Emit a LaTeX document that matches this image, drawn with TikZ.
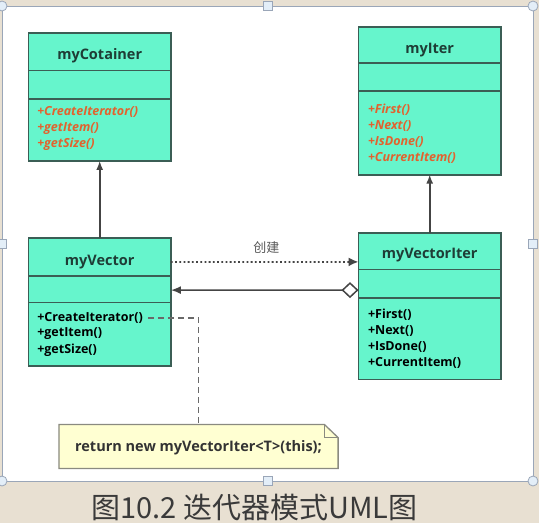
\documentclass[tikz,border=0pt]{standalone}
\usepackage{fontspec}
\newfontfamily\umlfont{Open Sans}
\newfontfamily\cjkfont{Noto Sans CJK SC}
\usetikzlibrary{arrows.meta,calc}
\definecolor{boxfill}{HTML}{66F5CC}
\definecolor{boxline}{HTML}{3B5E55}
\definecolor{optxt}{HTML}{E2622E}
\definecolor{titletxt}{HTML}{1E3D36}
\definecolor{notefill}{HTML}{FFFFD2}
\definecolor{noteline}{HTML}{8A8A80}
\definecolor{bgbeige}{HTML}{E8E0D2}
\definecolor{framecol}{HTML}{9AA6B8}
\definecolor{handlefill}{HTML}{E3EEF8}
\definecolor{conn}{HTML}{444444}
\definecolor{captxt}{HTML}{3A3A3A}
\begin{document}
\begin{tikzpicture}[x=1pt,y=-1pt,
  umlbox/.style={draw=boxline, line width=1.8pt, fill=boxfill, anchor=north west,
    minimum width=142.4pt, inner sep=0pt, outer sep=0pt},
  divider/.style={draw=boxline, line width=1.8pt},
  titletext/.style={font=\umlfont\bfseries\fontsize{14.5}{18}\selectfont, text=titletxt, inner sep=0pt},
  absop/.style={font=\umlfont\bfseries\itshape\fontsize{12.5}{15}\selectfont, text=optxt, anchor=west, inner sep=0pt},
  conop/.style={font=\umlfont\bfseries\fontsize{12.5}{15}\selectfont, text=black, anchor=west, inner sep=0pt},
  connline/.style={draw=conn, line width=1.6pt},
  dotline/.style={draw=conn, line width=1.8pt, dash pattern=on 1.8pt off 2.4pt},
  dashline/.style={draw=conn!80, line width=1.5pt, dash pattern=on 6pt off 4pt},
  lbltext/.style={font=\cjkfont\fontsize{13}{15}\selectfont, text=black!65, inner sep=0pt},
  handlesq/.style={draw=framecol, fill=handlefill, line width=0.8pt},
]
% background and frame
\fill[bgbeige] (0,0) rectangle (539,523);
\useasboundingbox (0,0) rectangle (539,523);
\fill[white] (2,6) rectangle (533,481);
\draw[framecol, line width=1pt] (2,6) rectangle (533,481);
\foreach \px/\py in {2/6,533/6,2/481,533/481}
  \draw[handlesq] (\px,\py) circle (5pt);
\foreach \px/\py in {267.5/6,267.5/481,2/243.5,533/243.5}
  \draw[handlesq] (\px-4.5,\py-4.5) rectangle (\px+4.5,\py+4.5);

% myCotainer
\node[umlbox, minimum height=127.6pt] (cont) at (28.5,33.3) {};
\draw[divider] ($(cont.north west)+(0,37.2)$) -- ($(cont.north east)+(0,37.2)$);
\draw[divider] ($(cont.north west)+(0,65.4)$) -- ($(cont.north east)+(0,65.4)$);
\node[titletext] (contT) at ($(cont.north)+(0,22.4)$) {myCotainer};
\node[absop] (contA) at (37.1,112.1) {+CreateIterator()};
\node[absop] (contB) at (37.1,128.6) {+getItem()};
\node[absop] (contC) at (37.1,144.7) {+getSize()};

% myIter
\node[umlbox, minimum height=147.8pt] (iter) at (358.5,26.8) {};
\draw[divider] ($(iter.north west)+(0,36.5)$) -- ($(iter.north east)+(0,36.5)$);
\draw[divider] ($(iter.north west)+(0,64.3)$) -- ($(iter.north east)+(0,64.3)$);
\node[titletext] (iterT) at ($(iter.north)+(0,23)$) {myIter};
\node[absop] (iterA) at (367.8,110) {+First()};
\node[absop] (iterB) at (367.8,125.8) {+Next()};
\node[absop] (iterC) at (367.8,141.6) {+IsDone()};
\node[absop] (iterD) at (367.8,158.1) {+CurrentItem()};

% myVector
\node[umlbox, minimum height=127.9pt] (vec) at (28.5,237.8) {};
\draw[divider] ($(vec.north west)+(0,37.8)$) -- ($(vec.north east)+(0,37.8)$);
\draw[divider] ($(vec.north west)+(0,64.6)$) -- ($(vec.north east)+(0,64.6)$);
\node[titletext] (vecT) at ($(vec.north)+(0,24.1)$) {myVector};
\node[conop] (vecA) at (37.1,317.6) {+CreateIterator()};
\node[conop] (vecB) at (37.1,333.4) {+getItem()};
\node[conop] (vecC) at (37.1,349.9) {+getSize()};

% myVectorIter
\node[umlbox, minimum height=146.7pt] (viter) at (358.5,232.7) {};
\draw[divider] ($(viter.north west)+(0,36.7)$) -- ($(viter.north east)+(0,36.7)$);
\draw[divider] ($(viter.north west)+(0,65.3)$) -- ($(viter.north east)+(0,65.3)$);
\node[titletext] (viterT) at ($(viter.north)+(0,22.3)$) {myVectorIter};
\node[conop] (viterA) at (367.8,314.5) {+First()};
\node[conop] (viterB) at (367.8,330.6) {+Next()};
\node[conop] (viterC) at (367.8,347.1) {+IsDone()};
\node[conop] (viterD) at (367.8,363.3) {+CurrentItem()};

% inheritance
\draw[connline, -{Latex[length=9pt,width=7pt]}] (vec.north) -- (cont.south);
\draw[connline, -{Latex[length=9pt,width=7pt]}] (viter.north) -- (iter.south);

% creation (dotted)
\draw[dotline, -{Latex[length=10pt,width=9pt]}] ($(vec.north east)+(0,24.1)$) -- ($(viter.north west)+(0,29.2)$);
\node[lbltext] (crlbl) at (266.4,247.1) {创建};

% aggregation
\draw[connline, {Diamond[open,fill=white,length=17pt,width=16pt,line width=1.5pt]}-{Latex[length=10pt,width=8pt]}]
  ($(viter.north west)+(0,57.4)$) -- ($(vec.north east)+(0,52.3)$);

% note
\node[minimum width=278.8pt, minimum height=43.6pt, inner sep=0pt] (note) at (198.5,446.5) {};
\path[draw=noteline, fill=notefill, line width=1.3pt]
  (note.north west) -- ($(note.north east)+(-13.7,0)$) -- ($(note.north east)+(0,13.1)$)
  -- (note.south east) -- (note.south west) -- cycle;
\draw[noteline, line width=1.1pt] ($(note.north east)+(-13.7,0)$) -- ($(note.north east)+(-13.7,13.1)$) -- ($(note.north east)+(0,13.1)$);
\node[font=\umlfont\bfseries\fontsize{14.5}{17}\selectfont, text=black!80, inner sep=0pt] (notetxt) at (198.5,447.7) {return new myVectorIter<T>(this);};
\coordinate (dstart) at (147.8,317.9);
\draw[dashline] (dstart) -| (note.north);

% caption
\node[font=\cjkfont\fontsize{29}{34}\selectfont, text=captxt, inner sep=0pt] (cap) at (254.4,507.5) {图10.2 迭代器模式UML图};
\end{tikzpicture}
\end{document}
